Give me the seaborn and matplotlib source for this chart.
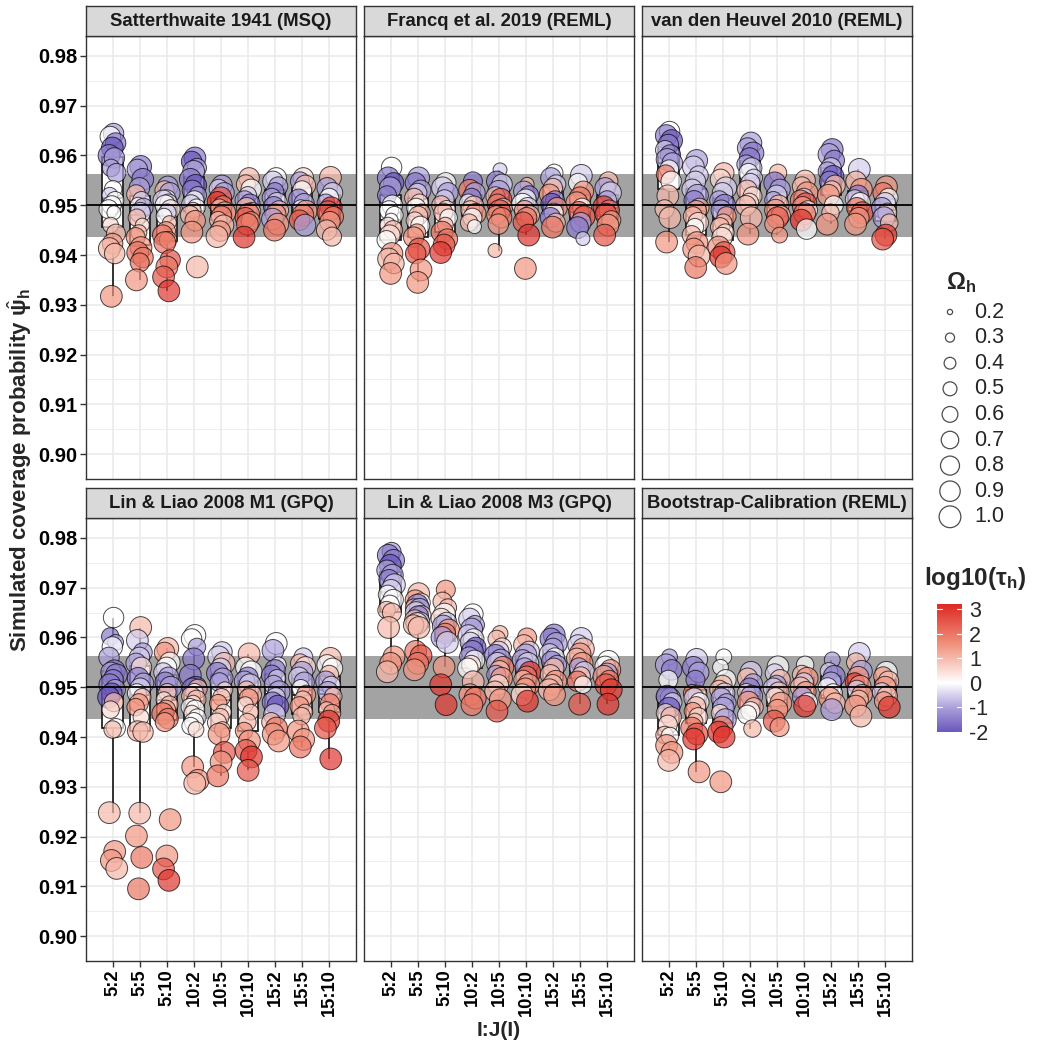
import numpy as np
import pandas as pd
import matplotlib
matplotlib.use("Agg")
import matplotlib.pyplot as plt
import seaborn as sns
from matplotlib.colors import LinearSegmentedColormap, Normalize
from matplotlib.colorbar import ColorbarBase

# ---------------- data ----------------
designs = ["5:2", "5:5", "5:10", "10:2", "10:5", "10:10", "15:2", "15:5", "15:10"]
panel_titles = ["Satterthwaite 1941 (MSQ)", "Francq et al. 2019 (REML)", "van den Heuvel 2010 (REML)",
                "Lin & Liao 2008 M1 (GPQ)", "Lin & Liao 2008 M3 (GPQ)", "Bootstrap-Calibration (REML)"]
nominal = 0.95
band_low, band_high = 0.9437, 0.9563
omega_levels = [0.2, 0.3, 0.4, 0.5, 0.6, 0.7, 0.8, 0.9, 1.0]
tau_ticks = [-2, -1, 0, 1, 2, 3]

# each group: (psi_hat, log10(tau_h), Omega_h)
satt = [
    [(0.9644,-1,0.9),(0.9638,0,0.9),(0.9625,-1.5,0.9),(0.9615,-2,1.0),(0.9600,-1.5,1.0),(0.9595,-1,0.9),(0.9575,-1,0.7),(0.9565,-1,0.8),(0.9532,0,0.7),(0.9520,-0.5,0.6),(0.9510,0,0.7),(0.9500,0,0.8),(0.9492,0,0.8),(0.9485,0,0.5),(0.9460,0.5,0.6),(0.9443,1,0.8),(0.9423,1.5,0.9),(0.9413,1,1.0),(0.9403,1,0.9),(0.9317,1.5,1.0)],
    [(0.9578,-1.5,1.0),(0.9572,-1,0.9),(0.9552,-1.5,1.0),(0.9535,-1,0.9),(0.9522,1,0.8),(0.9510,-0.5,0.7),(0.9500,0,0.6),(0.9495,-1,0.8),(0.9485,-0.5,0.9),(0.9475,1,0.7),(0.9460,0.5,0.5),(0.9445,1,0.6),(0.9436,1.5,0.8),(0.9415,1.5,1.0),(0.9405,2,1.0),(0.9395,2,0.9),(0.9385,2,0.8),(0.9350,1.5,1.0)],
    [(0.9538,-1,0.9),(0.9530,1,0.8),(0.9525,-1,0.9),(0.9512,0,0.8),(0.9510,-0.5,0.9),(0.9505,-0.5,0.7),(0.9500,0,0.9),(0.9492,0.5,0.8),(0.9485,-0.5,0.7),(0.9478,0,0.6),(0.9465,1,0.5),(0.9448,1.5,0.8),(0.9440,2,0.9),(0.9430,1.5,0.7),(0.9425,2,1.0),(0.9390,2.5,0.9),(0.9376,2,1.0),(0.9356,2.5,1.0),(0.9328,3,1.0)],
    [(0.9595,-1.5,1.0),(0.9588,-2,0.9),(0.9575,-1,0.8),(0.9568,-1,1.0),(0.9552,-1.5,1.0),(0.9540,-2,1.0),(0.9530,-1.5,0.9),(0.9520,-1,0.7),(0.9510,0,0.8),(0.9502,-0.5,0.8),(0.9495,0,0.7),(0.9490,1,0.6),(0.9480,1,0.8),(0.9469,1.5,0.9),(0.9446,1.5,1.0),(0.9376,1,1.0)],
    [(0.9540,-1,0.9),(0.9533,-0.5,0.8),(0.9525,-1,0.9),(0.9515,2.5,1.0),(0.9507,3,0.9),(0.9500,2,0.8),(0.9495,1,0.7),(0.9485,1.5,1.0),(0.9478,2,0.9),(0.9470,1,0.7),(0.9460,1,0.9),(0.9448,1.5,0.9),(0.9437,1,1.0)],
    [(0.9555,1,0.9),(0.9542,1,0.8),(0.9532,0,0.9),(0.9520,-0.5,0.7),(0.9510,-1,0.8),(0.9502,-1.5,0.9),(0.9495,1,0.9),(0.9488,0.5,0.7),(0.9482,2,1.0),(0.9475,2.5,0.9),(0.9468,1.5,0.8),(0.9462,2,1.0),(0.9436,3,1.0)],
    [(0.9555,0,0.9),(0.9548,-0.5,0.9),(0.9538,-1,0.8),(0.9528,-1.5,0.7),(0.9515,-1,0.8),(0.9505,-0.5,0.9),(0.9497,-1.5,0.9),(0.9490,1,0.8),(0.9482,1.5,0.9),(0.9472,-1,1.0),(0.9462,1.5,1.0),(0.9450,2,1.0)],
    [(0.9555,0.5,0.9),(0.9548,-1,0.8),(0.9540,1,0.9),(0.9530,0,0.8),(0.9512,-1.5,0.9),(0.9503,-1,0.9),(0.9495,0,0.6),(0.9488,1.5,1.0),(0.9480,2,1.0),(0.9470,2.5,0.9),(0.9460,-1,1.0)],
    [(0.9556,1,1.0),(0.9535,-1,0.9),(0.9525,-0.5,0.9),(0.9515,0,0.8),(0.9505,-1,0.7),(0.9495,3,1.0),(0.9487,2.5,1.0),(0.9477,2,0.9),(0.9467,1.5,0.9),(0.9450,1,0.9),(0.9437,1,0.8)],
]
francq = [
    [(0.9576,0,0.9),(0.9555,-1.5,1.0),(0.9545,-2,0.9),(0.9535,-1,1.0),(0.9520,-1.5,0.8),(0.9500,0,0.9),(0.9490,0,0.8),(0.9480,0,0.7),(0.9470,0,0.5),(0.9460,0.5,0.6),(0.9450,1,0.8),(0.9440,0.5,0.9),(0.9430,0,0.8),(0.9403,1.5,1.0),(0.9392,1,1.0),(0.9383,1,0.9),(0.9363,1.5,1.0)],
    [(0.9555,-1,1.0),(0.9545,-1.5,0.9),(0.9530,-1,0.9),(0.9525,-0.5,0.8),(0.9515,1,0.8),(0.9505,0.5,0.7),(0.9495,0,0.8),(0.9485,1,0.7),(0.9479,1,0.8),(0.9469,0.5,0.7),(0.9459,0,0.8),(0.9445,1.5,0.7),(0.9436,1.5,0.9),(0.9412,2.5,1.0),(0.9403,2.5,0.9),(0.9370,1.5,1.0),(0.9345,1.5,1.0)],
    [(0.9545,0,0.9),(0.9535,-0.5,1.0),(0.9525,-1,0.9),(0.9512,-0.5,0.8),(0.9500,1,0.8),(0.9492,0.5,0.7),(0.9485,1,0.8),(0.9475,0,0.7),(0.9460,1,0.6),(0.9446,2,1.0),(0.9432,2,0.9),(0.9420,2.5,1.0),(0.9405,3,1.0)],
    [(0.9548,-1.5,0.8),(0.9530,2,1.0),(0.9525,-1,0.9),(0.9515,-1.5,0.8),(0.9505,0,0.7),(0.9498,1,0.9),(0.9490,1,0.8),(0.9483,1.5,0.9),(0.9475,0,0.8),(0.9465,1,0.7),(0.9457,0,0.5)],
    [(0.9571,-0.5,0.5),(0.9548,-1.5,0.9),(0.9542,-0.5,0.9),(0.9528,-1,1.0),(0.9518,1,0.8),(0.9512,2.5,1.0),(0.9502,2,0.9),(0.9495,1,0.8),(0.9489,2.5,1.0),(0.9480,1.5,0.8),(0.9475,2,0.9),(0.9462,1.5,0.9),(0.9409,1,0.5)],
    [(0.9542,1,0.5),(0.9528,-1,0.9),(0.9520,-1.5,0.8),(0.9512,0,0.9),(0.9502,0,1.0),(0.9495,-0.5,0.9),(0.9489,1.5,0.9),(0.9480,1,0.8),(0.9475,2,0.9),(0.9466,2.5,0.9),(0.9440,3,1.0),(0.9373,1.5,1.0)],
    [(0.9565,0,0.7),(0.9555,-1,0.9),(0.9542,-0.5,0.8),(0.9535,1,0.8),(0.9522,1.5,0.9),(0.9510,-1.5,0.8),(0.9502,-2,1.0),(0.9495,1.5,0.9),(0.9485,0,0.8),(0.9475,-1.5,0.9),(0.9465,1,0.8),(0.9456,2,1.0)],
    [(0.9560,-0.5,1.0),(0.9545,0,0.8),(0.9528,1.5,0.9),(0.9515,2,1.0),(0.9505,1.5,1.0),(0.9495,0,0.8),(0.9487,2.5,0.9),(0.9477,2.5,1.0),(0.9465,-1,0.9),(0.9455,-1.5,1.0),(0.9433,-0.5,0.5)],
    [(0.9548,1,0.8),(0.9535,-1,0.9),(0.9525,-0.5,1.0),(0.9510,-1,0.8),(0.9497,3,1.0),(0.9490,2,0.9),(0.9482,2.5,1.0),(0.9470,1.5,0.8),(0.9460,1.5,1.0),(0.9440,2.5,1.0)],
]
heuvel = [
    [(0.9648,0,0.9),(0.9640,-1.5,1.0),(0.9630,-2,1.0),(0.9622,-1.5,0.9),(0.9611,-0.5,0.8),(0.9601,-1.5,0.9),(0.9592,-1,1.0),(0.9585,-1,0.9),(0.9572,0,0.8),(0.9562,2,0.8),(0.9548,0,0.9),(0.9519,1,1.0),(0.9492,1,0.8),(0.9475,1,1.0),(0.9426,1.5,1.0)],
    [(0.9590,-1,1.0),(0.9577,-0.5,1.0),(0.9560,-0.5,0.8),(0.9548,-0.5,0.9),(0.9532,-0.5,0.9),(0.9520,-1,1.0),(0.9509,-1.5,0.9),(0.9495,1,0.8),(0.9489,1.5,0.9),(0.9478,1,0.8),(0.9465,0.5,0.9),(0.9456,0,0.7),(0.9440,1,0.8),(0.9425,1.5,1.0),(0.9412,1.5,1.0),(0.9398,1,1.0),(0.9375,2,1.0)],
    [(0.9565,1,0.9),(0.9552,0.5,0.9),(0.9535,-0.5,1.0),(0.9525,-0.5,0.9),(0.9510,-1,0.8),(0.9500,-1.5,1.0),(0.9490,-1,0.9),(0.9478,1.5,0.8),(0.9465,1,0.7),(0.9456,1,0.8),(0.9445,0.5,0.7),(0.9435,0.5,0.9),(0.9416,1.5,1.0),(0.9405,2.5,1.0),(0.9396,3,1.0),(0.9383,1.5,1.0)],
    [(0.9625,-1,1.0),(0.9615,-1,0.9),(0.9605,-1.5,1.0),(0.9595,-1.5,0.9),(0.9582,-1,0.8),(0.9575,-0.5,0.9),(0.9565,0,0.8),(0.9555,-0.5,0.7),(0.9545,-0.5,0.8),(0.9530,1,0.9),(0.9518,0.5,0.8),(0.9505,0.5,0.8),(0.9499,1,0.9),(0.9475,1,1.0),(0.9442,1.5,1.0)],
    [(0.9565,1,0.7),(0.9545,-1.5,1.0),(0.9532,-1,0.9),(0.9520,-0.5,0.9),(0.9510,-1,0.7),(0.9500,1,0.9),(0.9490,1.5,1.0),(0.9480,1,0.8),(0.9475,2.5,1.0),(0.9462,1.5,0.8),(0.9440,1.5,0.6)],
    [(0.9550,1,0.9),(0.9538,1,0.8),(0.9525,1.5,1.0),(0.9515,-0.5,0.8),(0.9510,2,0.9),(0.9503,2.5,1.0),(0.9497,1.5,0.9),(0.9490,0,0.8),(0.9483,2,1.0),(0.9470,3,1.0),(0.9452,0,0.9)],
    [(0.9612,-1.5,1.0),(0.9602,-1,1.0),(0.9590,-1.5,0.9),(0.9575,-0.5,0.9),(0.9568,-1,0.8),(0.9558,-2,1.0),(0.9548,-1.5,0.9),(0.9540,1,0.9),(0.9530,1,0.8),(0.9520,1.5,1.0),(0.9500,0,0.8),(0.9485,1,0.7),(0.9462,1.5,1.0)],
    [(0.9572,-0.5,1.0),(0.9548,1,0.9),(0.9532,1.5,1.0),(0.9520,-1.5,0.9),(0.9512,-0.5,0.8),(0.9505,0,0.9),(0.9495,2,0.9),(0.9485,2.5,1.0),(0.9475,1.5,0.9),(0.9462,1.5,1.0)],
    [(0.9537,1.5,1.0),(0.9525,2,0.9),(0.9515,0,0.8),(0.9505,-0.5,0.9),(0.9495,-1,0.9),(0.9485,0.5,0.8),(0.9475,-1,1.0),(0.9465,1,0.7),(0.9440,3,1.0),(0.9432,2.5,1.0)],
]
lin_m1 = [
    [(0.9640,0,0.9),(0.9602,-1.5,0.7),(0.9590,-1,0.6),(0.9581,0,0.9),(0.9560,-1,0.9),(0.9533,-1.5,1.0),(0.9530,-1,0.9),(0.9525,-1.5,1.0),(0.9515,-1.5,0.9),(0.9505,-1.5,1.0),(0.9495,-1,0.9),(0.9488,-2,0.9),(0.9480,-2,1.0),(0.9470,1,0.8),(0.9455,0.5,0.7),(0.9418,0,0.8),(0.9415,1,0.7),(0.9248,1,1.0),(0.9170,1.5,1.0),(0.9152,1.5,1.0),(0.9136,1,1.0)],
    [(0.9620,1,1.0),(0.9594,-0.5,1.0),(0.9570,-1,0.8),(0.9560,-0.5,0.9),(0.9548,-1,0.9),(0.9540,0.5,0.9),(0.9518,-1.5,1.0),(0.9508,-1,0.9),(0.9498,-0.5,0.9),(0.9488,0,0.8),(0.9480,1,0.7),(0.9468,1.5,0.8),(0.9460,1.5,0.7),(0.9440,0.5,0.6),(0.9412,1,0.9),(0.9410,1,0.9),(0.9247,1,1.0),(0.9201,1.5,1.0),(0.9158,2,1.0),(0.9095,2,1.0)],
    [(0.9578,1,1.0),(0.9570,1.5,0.9),(0.9550,0,0.9),(0.9540,0,0.9),(0.9530,-0.5,0.8),(0.9520,-1,0.9),(0.9510,-1.5,0.9),(0.9500,-1,1.0),(0.9490,1,0.7),(0.9475,0.5,0.6),(0.9465,1,0.7),(0.9455,1.5,0.8),(0.9447,2,1.0),(0.9437,2,0.9),(0.9430,1.5,0.8),(0.9234,1.5,1.0),(0.9161,1.5,1.0),(0.9135,2.5,1.0),(0.9112,3,1.0)],
    [(0.9604,0,1.0),(0.9597,0,0.9),(0.9581,-1,0.7),(0.9557,-1.5,1.0),(0.9524,-1.5,1.0),(0.9500,-2,1.0),(0.9498,-1.5,0.9),(0.9497,1,0.8),(0.9490,0,0.7),(0.9482,1,0.8),(0.9475,1,0.8),(0.9468,0.5,0.6),(0.9460,0,0.7),(0.9455,0,0.8),(0.9448,0.5,0.6),(0.9439,0,0.7),(0.9430,0,0.8),(0.9422,0,0.7),(0.9415,0.5,0.6),(0.9340,1.5,1.0),(0.9313,1.5,1.0),(0.9307,1,1.0)],
    [(0.9571,-0.5,0.9),(0.9561,-0.5,1.0),(0.9548,1,1.0),(0.9538,-0.5,0.9),(0.9528,-1.5,1.0),(0.9518,-1,0.9),(0.9510,-1,0.8),(0.9495,0.5,0.6),(0.9480,1,0.7),(0.9468,1.5,0.7),(0.9450,0.5,0.6),(0.9440,1,0.7),(0.9429,0.5,0.8),(0.9415,1,0.6),(0.9406,1.5,1.0),(0.9369,2.5,1.0),(0.9350,1.5,1.0),(0.9322,2,1.0)],
    [(0.9567,1,1.0),(0.9540,0,0.9),(0.9531,0,1.0),(0.9520,-1.5,0.9),(0.9512,-1,0.9),(0.9505,-0.5,1.0),(0.9495,1,0.7),(0.9485,1,0.8),(0.9478,1.5,0.8),(0.9465,0.5,0.6),(0.9450,1,0.6),(0.9430,1,0.7),(0.9412,1.5,0.7),(0.9392,1.5,1.0),(0.9373,2.5,1.0),(0.9360,3,1.0),(0.9333,2.5,1.0)],
    [(0.9588,0,1.0),(0.9574,-1,1.0),(0.9545,0,0.6),(0.9535,-1.5,0.9),(0.9524,-1.5,0.9),(0.9518,-0.5,0.7),(0.9505,-1,0.8),(0.9491,-1,1.0),(0.9480,-0.5,0.8),(0.9470,-1.5,0.9),(0.9462,-2,1.0),(0.9445,-0.5,1.0),(0.9430,1,0.8),(0.9418,2,1.0),(0.9406,1.5,1.0),(0.9392,1.5,1.0)],
    [(0.9560,-0.5,0.8),(0.9548,1,0.8),(0.9541,0.5,0.9),(0.9530,-1,1.0),(0.9520,-0.5,0.9),(0.9510,-1,0.9),(0.9498,0,0.7),(0.9485,1.5,0.8),(0.9475,1,0.7),(0.9462,1.5,0.8),(0.9450,1,0.6),(0.9442,1,0.7),(0.9412,1.5,1.0),(0.9395,1.5,1.0),(0.9380,2,1.0)],
    [(0.9558,1,1.0),(0.9545,0,0.9),(0.9538,0,0.9),(0.9525,1,0.8),(0.9512,-1,0.9),(0.9503,-0.5,0.8),(0.9491,-1,0.9),(0.9482,1,0.7),(0.9468,2,0.8),(0.9455,1,0.6),(0.9448,1.5,0.7),(0.9432,3,1.0),(0.9418,2.5,1.0),(0.9356,3,1.0)],
]
lin_m3 = [
    [(0.9772,-1,0.8),(0.9765,-1.5,1.0),(0.9755,-1.5,1.0),(0.9745,-2,1.0),(0.9735,-1,0.9),(0.9725,-1,1.0),(0.9716,-1.5,0.9),(0.9706,-0.5,1.0),(0.9696,-0.5,0.9),(0.9686,0,0.8),(0.9676,0,0.9),(0.9666,0,0.8),(0.9655,1,0.7),(0.9650,1,0.8),(0.9620,1,1.0),(0.9561,1.5,1.0),(0.9548,1.5,1.0),(0.9531,1,1.0)],
    [(0.9688,1,1.0),(0.9675,1.5,0.9),(0.9670,0,0.8),(0.9665,-1.5,1.0),(0.9660,1,0.7),(0.9658,-1,0.9),(0.9650,-0.5,1.0),(0.9645,0.5,0.8),(0.9643,-1.5,0.9),(0.9635,1,0.9),(0.9632,-0.5,0.8),(0.9628,0.5,1.0),(0.9625,1,0.9),(0.9620,1,1.0),(0.9572,2,1.0),(0.9563,2.5,1.0),(0.9548,2,1.0),(0.9535,1.5,1.0)],
    [(0.9696,1.5,0.8),(0.9672,1,0.8),(0.9660,1,0.7),(0.9647,0,1.0),(0.9638,0.5,0.9),(0.9630,-0.5,0.9),(0.9623,-1,1.0),(0.9615,1.5,1.0),(0.9608,2,0.9),(0.9600,-1,1.0),(0.9590,-0.5,1.0),(0.9541,1.5,1.0),(0.9505,3,1.0),(0.9465,3,1.0)],
    [(0.9647,0,0.9),(0.9637,-0.5,1.0),(0.9625,-1,0.8),(0.9617,-1,1.0),(0.9605,-0.5,0.9),(0.9597,0,0.9),(0.9590,-0.5,0.9),(0.9580,-2,0.9),(0.9572,-1.5,1.0),(0.9562,-1,0.8),(0.9554,0,0.9),(0.9545,0.5,0.8),(0.9538,0,0.9),(0.9511,1,1.0),(0.9485,1.5,1.0),(0.9478,2,1.0),(0.9465,2,1.0)],
    [(0.9608,1,0.6),(0.9597,1,0.7),(0.9580,0.5,0.8),(0.9572,-0.5,0.9),(0.9564,-1.5,1.0),(0.9556,-1,0.9),(0.9548,-0.5,1.0),(0.9540,2,1.0),(0.9533,1,0.9),(0.9525,-1,0.8),(0.9518,1.5,1.0),(0.9505,0.5,0.9),(0.9492,1,0.9),(0.9475,1.5,1.0),(0.9452,2.5,1.0)],
    [(0.9600,1.5,0.8),(0.9585,1,0.9),(0.9572,-0.5,0.9),(0.9565,-1,1.0),(0.9555,-1,0.9),(0.9548,-0.5,1.0),(0.9540,-1,0.8),(0.9530,3,1.0),(0.9522,2,0.9),(0.9515,1,0.8),(0.9505,1.5,1.0),(0.9498,1.5,0.9),(0.9485,0.5,1.0),(0.9472,3,1.0)],
    [(0.9605,-1.5,1.0),(0.9597,-1.5,1.0),(0.9588,-1,1.0),(0.9578,-1,0.9),(0.9567,-0.5,0.9),(0.9560,0,0.8),(0.9552,-1.5,0.9),(0.9545,-1,0.8),(0.9538,1,0.9),(0.9525,1,0.9),(0.9512,1.5,1.0),(0.9505,1,0.9),(0.9495,1,1.0),(0.9485,1.5,1.0)],
    [(0.9598,-0.5,1.0),(0.9585,-0.5,0.9),(0.9577,1,1.0),(0.9567,1.5,1.0),(0.9558,1,0.9),(0.9548,1.5,1.0),(0.9540,-1,0.8),(0.9531,-0.5,0.9),(0.9522,1,0.8),(0.9512,2,0.9),(0.9505,0,0.7),(0.9466,2.5,1.0)],
    [(0.9552,0,1.0),(0.9542,0,0.9),(0.9535,1.5,0.9),(0.9528,-1,0.9),(0.9522,1.5,1.0),(0.9515,2,0.8),(0.9505,2.5,1.0),(0.9495,3,1.0),(0.9466,3,1.0)],
]
boot = [
    [(0.9561,-1,0.6),(0.9545,-1,1.0),(0.9535,-1.5,0.9),(0.9515,0,0.8),(0.9480,-1,0.7),(0.9478,-1,0.9),(0.9482,-1.5,1.0),(0.9470,-0.5,0.8),(0.9458,-2,1.0),(0.9448,0.5,0.8),(0.9440,1,0.9),(0.9425,0.5,0.8),(0.9404,1,0.7),(0.9402,0,0.7),(0.9383,1.5,1.0),(0.9369,1.5,1.0),(0.9353,1,1.0)],
    [(0.9556,-0.5,1.0),(0.9540,-1.5,1.0),(0.9530,-1,0.9),(0.9515,-1.5,0.8),(0.9488,2,0.7),(0.9485,1,0.8),(0.9478,-0.5,0.9),(0.9470,0,0.8),(0.9462,1,0.8),(0.9452,1.5,0.7),(0.9440,0.5,0.8),(0.9432,1,0.6),(0.9418,2,1.0),(0.9406,2.5,1.0),(0.9396,3,1.0),(0.9330,1.5,1.0)],
    [(0.9561,0,0.6),(0.9540,0,0.6),(0.9515,0,0.9),(0.9505,1,0.8),(0.9495,1,0.8),(0.9488,-0.5,0.9),(0.9478,-1,0.9),(0.9468,-1,0.8),(0.9458,-1,1.0),(0.9448,0.5,0.7),(0.9435,-1,1.0),(0.9420,2,1.0),(0.9410,3,1.0),(0.9400,3,1.0),(0.9310,1.5,1.0)],
    [(0.9530,-0.5,1.0),(0.9518,1,0.9),(0.9508,-1,0.8),(0.9498,-1.5,0.9),(0.9490,0.5,0.7),(0.9482,-1,1.0),(0.9470,1.5,1.0),(0.9460,1,0.8),(0.9452,0,0.8),(0.9445,0,0.8),(0.9417,1,0.7)],
    [(0.9541,0,1.0),(0.9528,-0.5,0.8),(0.9515,1,0.9),(0.9505,-1,0.8),(0.9498,-0.5,0.9),(0.9490,1,0.9),(0.9480,0.5,0.8),(0.9468,1.5,1.0),(0.9455,1.5,0.9),(0.9432,2.5,1.0),(0.9420,1.5,0.8)],
    [(0.9545,0,0.7),(0.9525,1,0.8),(0.9518,1.5,1.0),(0.9510,-0.5,0.8),(0.9500,1,0.9),(0.9491,1.5,0.9),(0.9480,-1,0.9),(0.9470,0,0.8),(0.9462,3,1.0)],
    [(0.9555,-1,0.6),(0.9532,-0.5,0.7),(0.9522,-1.5,1.0),(0.9510,-1,0.9),(0.9500,0,0.8),(0.9488,0,0.8),(0.9478,1.5,1.0),(0.9468,1,0.9),(0.9455,-1,1.0)],
    [(0.9568,-0.5,1.0),(0.9550,1,0.8),(0.9532,-1,1.0),(0.9520,1.5,1.0),(0.9510,3,0.8),(0.9502,1.5,1.0),(0.9495,-0.5,0.8),(0.9485,1.5,0.9),(0.9475,1,0.8),(0.9462,1.5,1.0),(0.9442,1,1.0)],
    [(0.9530,0,1.0),(0.9522,1.5,0.8),(0.9512,1,0.9),(0.9500,1.5,1.0),(0.9490,-0.5,0.8),(0.9482,1,0.9),(0.9472,1.5,0.8),(0.9460,3,1.0)],
]
panels = [satt, francq, heuvel, lin_m1, lin_m3, boot]

# ---------------- style ----------------
sns.set_theme(style="white")
plt.rcParams["font.family"] = ["Liberation Sans", "DejaVu Sans"]
plt.rcParams["mathtext.fontset"] = "custom"
plt.rcParams["mathtext.rm"] = "Liberation Sans"
plt.rcParams["mathtext.it"] = "Liberation Sans:italic"
plt.rcParams["mathtext.bf"] = "Liberation Sans:bold"

W, H = 1043, 1045
fig = plt.figure(figsize=(W / 100, H / 100), dpi=100)
fig.patch.set_facecolor("white")

def frac(l, t, r, b):
    return [l / W, 1 - b / H, (r - l) / W, (b - t) / H]

vmin, vmax = -2.0, 3.2
mid = (0 - vmin) / (vmax - vmin)
cmap = LinearSegmentedColormap.from_list(
    "tau", [(0.0, "#6A56BC"), (mid * 0.5, "#ACA0DA"), (mid, "#FFFFFF"),
            (mid + (1 - mid) * 0.5, "#F0907A"), (1.0, "#DD2A25")])
norm = Normalize(vmin, vmax)
s_min, s_max = 14, 245

col_x = [(86, 356), (364, 634), (642, 912)]
row_y = [(36, 479), (518, 961)]
strip_y = [(6, 36), (488, 518)]
edge = "#333333"

golden = 0.6180339887
for p, groups in enumerate(panels):
    r, c = divmod(p, 3)
    rows = []
    for g, pts in enumerate(groups):
        for k, (psi, tau, om) in enumerate(pts):
            rows.append(dict(design=designs[g], gi=g,
                             xpos=g + (((k + 1) * golden) % 1 - 0.5) * 0.32,
                             psi=psi, tau=tau, omega=om))
    df = pd.DataFrame(rows)

    l, rr = col_x[c]
    t, b = row_y[r]
    ax = fig.add_axes(frac(l, t, rr, b))
    ax.axhspan(band_low, band_high, color="#A3A3A3", lw=0, zorder=0.8)
    sns.boxplot(data=df, x="design", y="psi", order=designs, color="white", saturation=1,
                linecolor="#1A1A1A", linewidth=1.25, width=0.75, whis=1.5,
                showfliers=False, showcaps=False, ax=ax)
    sns.scatterplot(data=df, x="xpos", y="psi", hue="tau", size="omega",
                    palette=cmap, hue_norm=norm, sizes=(s_min, s_max), size_norm=(0.2, 1.0),
                    alpha=0.7, edgecolor="black", linewidth=0.7, legend=False, ax=ax, zorder=3)
    ax.axhline(nominal, color="black", lw=1.3, zorder=4)

    ax.set_xlim(-0.98, 8.98)
    ax.set_ylim(0.896, 0.984)
    ax.set_xticks(range(len(designs)))
    yt = np.round(np.arange(0.90, 0.9801, 0.01), 2)
    ax.set_yticks(yt)
    ax.set_yticks(np.round(np.arange(0.895, 0.980, 0.01), 3), minor=True)
    ax.set_axisbelow(True)
    ax.grid(True, which="major", color="#EBEBEB", lw=1.2)
    ax.grid(True, which="minor", axis="y", color="#EBEBEB", lw=0.6)
    ax.set_xlabel("")
    ax.set_ylabel("")
    for s in ax.spines.values():
        s.set_visible(True)
        s.set_color(edge)
        s.set_linewidth(1.0)
    ax.tick_params(which="minor", length=0)
    ax.tick_params(which="major", length=4, width=1, color=edge, pad=2)
    if c == 0:
        ax.set_yticklabels([f"{v:.2f}" for v in yt], fontsize=14.5, fontweight="bold", color="black")
        ax.tick_params(axis="y", left=True)
    else:
        ax.tick_params(axis="y", left=False, labelleft=False)
    if r == 1:
        ax.set_xticklabels(designs, rotation=90, fontsize=13.2, fontweight="bold", color="black")
        ax.tick_params(axis="x", bottom=True)
    else:
        ax.tick_params(axis="x", bottom=False, labelbottom=False)

    st, sb = strip_y[r]
    sax = fig.add_axes(frac(l, st, rr, sb))
    sax.set_facecolor("#D9D9D9")
    sax.set_xticks([]); sax.set_yticks([])
    for s in sax.spines.values():
        s.set_color(edge); s.set_linewidth(1.0)
    sax.text(0.5, 0.5, panel_titles[p], ha="center", va="center",
             fontsize=13.3, fontweight="bold", color="#1A1A1A", transform=sax.transAxes)

# axis titles
fig.text(499 / W, 1 - 1031 / H, "I:J(I)", ha="center", va="center", fontsize=15, fontweight="bold")
fig.text(20 / W, 1 - 470 / H, r"Simulated coverage probability $\hat{\mathbf{\psi}}_\mathbf{h}$",
         rotation=90, ha="center", va="center", fontsize=16, fontweight="bold")

# size legend
lax = fig.add_axes([0, 0, 1, 1], zorder=-1)
lax.set_xlim(0, W); lax.set_ylim(H, 0); lax.axis("off")
lax.text(946, 283, r"$\mathbf{\Omega_h}$", ha="left", va="center", fontsize=17)
for i, om in enumerate(omega_levels):
    y = 312 + 25.6 * i
    s = s_min + (om - 0.2) / 0.8 * (s_max - s_min)
    lax.scatter([950], [y], s=s, facecolors="none", edgecolors="#4D4D4D", linewidths=0.9)
    lax.text(974, y, f"{om:.1f}", ha="left", va="center", fontsize=15.5)

# colour bar
lax.text(924, 578, r"$\mathbf{log10(\tau_h)}$", ha="left", va="center", fontsize=17.5)
cax = fig.add_axes(frac(937, 604, 962, 732))
cb = ColorbarBase(cax, cmap=cmap, norm=norm, orientation="vertical", ticks=tau_ticks)
cb.outline.set_visible(False)
cax.tick_params(length=0, labelsize=15.5, pad=5)
cax.set_yticklabels([str(v) for v in tau_ticks])
for v in tau_ticks:
    cax.plot([0, 0.2], [v, v], color="white", lw=0.8)
    cax.plot([0.8, 1.0], [v, v], color="white", lw=0.8)
cax.set_xlim(0, 1)

fig.savefig("out.png", dpi=100)
